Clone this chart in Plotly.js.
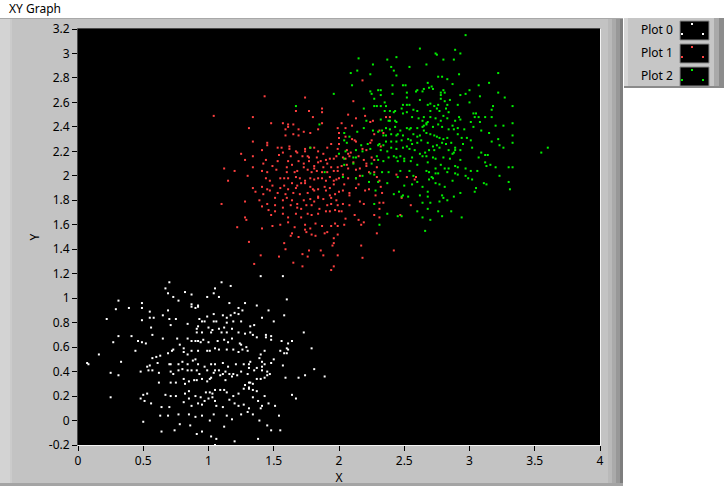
<!DOCTYPE html>
<html>
<head>
<meta charset="utf-8">
<script src="https://cdn.plot.ly/plotly-3.0.1.min.js"></script>
<style>
html,body{margin:0;padding:0;background:#ffffff;}
#chart{width:724px;height:486px;}
</style>
</head>
<body>
<div id="chart"></div>
<script>
// ---- data ----
var seriesNames = ["Plot 0", "Plot 1", "Plot 2"];
var seriesColors = ["#ffffff", "#ff4040", "#00f000"];

var xTickVals = [0, 0.5, 1, 1.5, 2, 2.5, 3, 3.5, 4];
var xTickText = ["0", "0.5", "1", "1.5", "2", "2.5", "3", "3.5", "4"];
var yTickVals = [-0.2, 0, 0.2, 0.4, 0.6, 0.8, 1, 1.2, 1.4, 1.6, 1.8, 2, 2.2, 2.4, 2.6, 2.8, 3, 3.2];
var yTickText = ["-0.2", "0", "0.2", "0.4", "0.6", "0.8", "1", "1.2", "1.4", "1.6", "1.8", "2", "2.2", "2.4", "2.6", "2.8", "3", "3.2"];

var plot0X = [
0.70,0.67,1.10,1.17,1.05,0.69,0.82,0.73,0.87,0.99,
1.04,1.08,0.31,0.49,0.77,0.87,0.92,0.87,0.92,1.16,
1.28,0.29,0.39,0.49,0.55,0.69,0.90,1.23,1.26,1.20,
1.23,0.22,0.49,0.55,0.58,0.65,0.70,0.75,0.93,0.99,
1.04,1.11,1.14,1.17,0.95,0.97,1.04,1.06,1.14,1.19,
1.25,0.56,0.71,0.84,0.92,0.91,1.00,1.03,1.08,1.12,
1.18,1.28,0.57,0.91,0.95,1.02,1.10,1.14,1.23,0.31,
0.41,0.27,0.46,0.49,0.52,0.65,0.76,0.84,0.87,0.90,
0.92,0.94,0.96,1.00,1.07,1.12,1.15,1.18,1.24,1.29,
1.30,1.25,0.16,0.33,0.44,0.57,0.60,0.63,0.69,0.72,
0.73,0.78,0.81,0.81,0.84,0.87,0.90,0.92,0.99,1.01,
1.05,1.08,1.14,1.19,1.23,1.26,0.07,0.08,0.61,0.70,
0.71,0.77,0.80,0.84,0.88,0.92,0.97,1.02,1.05,1.11,
1.15,1.21,1.27,1.31,0.25,0.31,0.48,0.53,0.55,0.54,
0.57,0.62,0.71,0.73,0.77,0.80,0.84,0.87,0.91,0.93,
0.99,1.04,1.05,1.08,1.11,1.13,1.16,1.19,1.22,1.25,
1.32,0.62,0.71,0.75,0.81,0.82,0.85,0.89,0.91,0.95,
0.99,1.01,1.02,1.09,1.13,1.18,1.30,1.28,0.25,0.48,
0.50,0.53,0.56,0.67,0.71,0.75,0.82,0.85,0.90,0.94,
0.98,1.01,1.03,1.05,1.09,1.12,1.14,1.19,1.23,1.31,
1.27,0.51,0.64,0.70,0.81,0.85,0.87,0.92,0.95,0.97,
1.00,1.03,1.05,1.06,1.11,1.16,1.20,1.23,1.27,0.63,
0.69,0.77,0.85,0.90,0.95,1.01,1.04,1.14,1.18,1.25,
1.30,0.50,0.64,0.74,0.78,0.86,0.91,0.95,1.02,1.06,
1.05,1.12,1.20,1.40,1.57,1.60,1.37,1.46,1.58,1.41,
1.50,1.35,1.32,1.73,1.32,1.34,1.44,1.48,1.37,1.44,
1.48,1.56,1.61,1.64,1.79,1.60,1.61,1.55,1.58,1.60,
1.43,1.40,1.39,1.50,1.48,1.41,1.43,1.32,1.57,1.41,
1.37,1.31,1.81,1.41,1.35,1.45,1.74,1.89,1.47,1.45,
1.43,1.59,1.69,1.37,1.40,1.34,1.31,1.37,1.34,1.31,
1.64,1.67,1.43,1.34,1.38,1.46,1.51,1.41,1.40,1.31,
1.34,1.54,1.39,1.45,1.48,1.55,1.38];
var plot0Y = [
1.13,1.08,1.13,1.10,1.08,1.04,1.05,1.01,1.03,1.01,
1.04,1.01,0.98,0.96,0.98,0.95,0.94,0.93,0.93,0.96,
0.96,0.91,0.92,0.92,0.89,0.90,0.92,0.92,0.90,0.88,
0.87,0.83,0.82,0.84,0.84,0.86,0.83,0.83,0.83,0.85,
0.87,0.86,0.84,0.86,0.81,0.81,0.81,0.81,0.80,0.81,
0.81,0.76,0.78,0.79,0.77,0.75,0.76,0.74,0.75,0.76,
0.75,0.71,0.70,0.72,0.72,0.72,0.72,0.72,0.72,0.69,
0.69,0.64,0.65,0.64,0.63,0.67,0.67,0.67,0.65,0.65,
0.65,0.64,0.66,0.64,0.65,0.66,0.64,0.67,0.63,0.60,
0.57,0.62,0.54,0.48,0.57,0.51,0.52,0.53,0.55,0.57,
0.58,0.62,0.59,0.56,0.54,0.57,0.50,0.57,0.57,0.57,
0.59,0.58,0.58,0.58,0.56,0.58,0.47,0.46,0.47,0.46,
0.46,0.46,0.48,0.46,0.49,0.46,0.44,0.46,0.46,0.47,
0.44,0.46,0.46,0.46,0.39,0.37,0.40,0.44,0.45,0.41,
0.41,0.39,0.40,0.38,0.41,0.42,0.41,0.41,0.41,0.38,
0.41,0.39,0.41,0.41,0.38,0.40,0.38,0.38,0.37,0.40,
0.31,0.31,0.31,0.31,0.34,0.30,0.32,0.33,0.33,0.34,
0.32,0.34,0.35,0.37,0.33,0.36,0.38,0.29,0.19,0.18,
0.21,0.22,0.14,0.21,0.20,0.20,0.22,0.24,0.20,0.19,
0.23,0.23,0.22,0.25,0.25,0.25,0.23,0.20,0.22,0.27,
0.26,0.16,0.11,0.11,0.15,0.18,0.12,0.14,0.13,0.16,
0.18,0.19,0.16,0.12,0.11,0.17,0.14,0.12,0.13,0.04,
0.04,0.05,0.05,0.03,0.04,0.00,0.05,0.04,0.01,0.05,
0.07,-0.01,-0.09,-0.08,-0.03,-0.04,-0.11,-0.09,-0.13,-0.15,
-0.20,-0.05,-0.17,1.18,1.18,0.99,0.94,0.90,0.86,0.84,
0.81,0.78,0.77,0.72,0.72,0.70,0.70,0.69,0.68,0.68,
0.66,0.65,0.63,0.65,0.59,0.59,0.58,0.57,0.55,0.55,
0.57,0.54,0.51,0.50,0.47,0.48,0.46,0.48,0.45,0.44,
0.43,0.43,0.42,0.41,0.41,0.40,0.37,0.36,0.38,0.37,
0.35,0.35,0.35,0.34,0.34,0.30,0.31,0.24,0.25,0.26,
0.21,0.18,0.20,0.19,0.16,0.14,0.12,0.12,0.10,0.10,
0.05,0.04,0.00,-0.04,-0.08,-0.08,-0.15];

var plot1X = [
1.43,1.74,1.04,1.34,1.87,1.87,1.77,1.67,1.80,1.48,
1.57,1.61,1.65,1.61,1.31,1.59,1.69,1.87,1.84,1.78,
1.73,1.99,1.65,1.69,1.59,2.00,1.34,1.45,1.45,1.41,
1.53,1.56,1.62,1.62,1.57,1.67,1.68,1.74,1.78,1.74,
1.81,1.84,1.88,1.91,2.00,2.00,1.94,1.99,1.25,1.34,
1.54,1.63,1.72,1.76,1.77,1.83,1.90,1.93,1.96,1.98,
1.28,1.44,1.53,1.61,1.64,1.69,1.73,1.77,1.81,1.84,
1.86,1.88,1.91,1.94,1.99,1.99,1.34,1.42,1.12,1.20,
1.49,1.52,1.60,1.60,1.66,1.68,1.73,1.76,1.79,1.81,
1.83,1.87,1.91,1.96,1.15,1.30,1.41,1.45,1.44,1.47,
1.55,1.58,1.61,1.67,1.70,1.64,1.71,1.74,1.78,1.81,
1.84,1.87,1.90,1.93,1.96,1.98,2.00,1.34,1.41,1.45,
1.49,1.55,1.58,1.61,1.67,1.68,1.74,1.78,1.80,1.84,
1.89,1.93,1.96,1.36,1.42,1.47,1.53,1.59,1.65,1.70,
1.76,1.81,1.84,1.90,1.93,1.97,2.00,1.28,1.39,1.45,
1.51,1.57,1.60,1.64,1.68,1.73,1.78,1.81,1.84,1.88,
1.94,1.98,1.10,1.41,1.46,1.51,1.57,1.63,1.68,1.71,
1.75,1.79,1.85,1.91,1.94,1.99,1.28,1.29,1.48,1.51,
1.57,1.61,1.67,1.71,1.76,1.79,1.84,1.90,1.93,1.97,
2.00,1.22,1.41,1.49,1.55,1.61,1.66,1.74,1.78,1.74,
1.82,1.87,1.89,1.94,1.97,1.99,1.31,1.58,1.63,1.64,
1.69,1.75,1.79,1.82,1.91,1.96,1.99,1.95,1.40,1.54,
1.59,1.72,1.77,1.86,1.88,1.96,1.99,1.35,1.65,1.72,
1.76,1.96,1.94,2.17,2.18,2.42,2.18,2.11,2.07,2.20,
2.36,2.39,2.13,2.26,2.24,2.10,2.05,2.02,2.31,2.34,
2.27,2.05,2.10,2.12,2.13,2.25,2.24,2.32,2.18,2.21,
2.09,2.06,2.07,2.08,2.05,2.03,2.15,2.19,2.25,2.27,
2.29,2.06,2.11,2.02,2.07,2.13,2.16,2.21,2.21,2.03,
2.07,2.13,2.16,2.23,2.27,2.29,2.31,2.15,2.32,2.13,
2.04,2.03,2.08,2.23,2.08,2.20,2.28,2.33,2.44,2.52,
2.58,2.59,2.48,2.55,2.19,2.16,2.03,2.08,2.31,2.34,
2.27,2.31,2.12,2.02,2.05,2.15,2.19,2.04,2.17,2.47,
2.29,2.31];
var plot1Y = [
2.65,2.64,2.49,2.48,2.55,2.52,2.53,2.53,2.48,2.43,
2.43,2.42,2.42,2.40,2.39,2.38,2.38,2.43,2.38,2.35,
2.36,2.39,2.34,2.33,2.33,2.35,2.28,2.27,2.25,2.21,
2.23,2.23,2.24,2.22,2.19,2.20,2.19,2.22,2.23,2.20,
2.23,2.20,2.18,2.23,2.31,2.26,2.26,2.22,2.18,2.16,
2.17,2.16,2.16,2.16,2.15,2.15,2.13,2.14,2.14,2.16,
2.13,2.13,2.12,2.12,2.09,2.12,2.10,2.12,2.08,2.11,
2.12,2.07,2.10,2.07,2.07,2.04,2.07,2.10,2.06,2.04,
2.08,2.05,2.07,2.03,2.03,2.04,2.07,2.05,2.03,2.06,
2.04,2.03,2.03,2.04,1.96,2.00,2.04,2.03,1.98,1.96,
1.98,1.98,1.98,1.99,1.98,1.94,1.94,1.96,1.98,1.97,
1.98,1.98,1.96,1.99,1.96,1.97,1.98,1.90,1.91,1.89,
1.92,1.90,1.92,1.89,1.90,1.92,1.94,1.91,1.89,1.89,
1.91,1.90,1.93,1.87,1.85,1.88,1.86,1.85,1.86,1.85,
1.86,1.88,1.83,1.88,1.84,1.85,1.87,1.79,1.80,1.77,
1.82,1.80,1.82,1.80,1.77,1.80,1.81,1.79,1.82,1.81,
1.82,1.80,1.77,1.75,1.72,1.76,1.74,1.76,1.74,1.73,
1.76,1.76,1.73,1.76,1.77,1.76,1.66,1.64,1.68,1.71,
1.69,1.66,1.69,1.66,1.69,1.68,1.69,1.71,1.71,1.72,
1.71,1.58,1.57,1.59,1.60,1.62,1.58,1.60,1.57,1.56,
1.61,1.59,1.53,1.59,1.61,1.59,1.46,1.45,1.51,1.53,
1.50,1.54,1.52,1.51,1.54,1.49,1.52,1.43,1.35,1.34,
1.40,1.36,1.39,1.39,1.35,1.45,1.35,1.28,1.29,1.26,
1.34,1.26,1.23,1.43,1.33,1.39,2.78,2.61,2.50,2.49,
2.48,2.48,2.47,2.45,2.44,2.41,2.39,2.43,2.37,2.35,
2.34,2.32,2.30,2.29,2.28,2.29,2.27,2.24,2.22,2.21,
2.19,2.21,2.18,2.16,2.14,2.15,2.16,2.13,2.15,2.13,
2.07,2.09,2.11,2.08,2.06,2.05,2.06,2.08,2.10,2.01,
1.98,1.98,2.00,2.03,2.03,1.99,1.96,1.93,1.91,1.90,
1.93,1.88,1.86,1.89,1.84,1.88,1.84,1.86,2.01,1.99,
1.97,1.99,1.82,1.76,1.77,1.79,1.77,1.76,1.78,1.78,
1.68,1.73,1.68,1.71,1.65,1.64,1.62,1.60,1.60,1.68,
1.53,1.66];

var plot2X = [
2.62,2.89,2.74,2.75,2.93,2.44,2.15,2.37,2.80,2.88,
2.26,2.54,2.67,2.40,2.42,2.14,2.09,2.24,2.44,2.92,
3.22,2.76,2.79,2.83,2.49,2.41,2.51,2.68,2.87,2.10,
2.71,2.72,2.69,2.65,2.60,2.59,2.64,2.80,2.78,2.81,
3.07,3.15,2.24,2.25,2.30,2.32,2.41,2.32,2.52,2.78,
2.97,3.00,2.93,3.22,3.08,3.27,2.27,2.52,2.62,2.78,
2.81,2.85,3.00,2.35,2.27,2.29,2.32,2.49,2.52,2.54,
2.68,2.70,2.73,2.76,2.83,2.91,3.33,3.18,3.17,2.19,
2.35,2.36,2.39,2.42,2.43,2.48,2.52,2.57,2.60,2.70,
2.75,2.77,2.82,2.84,2.49,2.38,2.39,2.43,2.44,2.21,
2.32,2.56,2.61,2.65,2.64,2.67,2.68,2.70,2.74,2.78,
2.80,2.83,2.92,2.93,2.89,3.03,3.05,3.04,3.07,3.12,
3.01,3.08,3.17,3.33,3.20,3.26,2.19,2.26,2.36,2.39,
2.43,2.47,2.52,2.54,2.55,2.60,2.64,2.65,2.67,2.72,
2.76,2.79,2.84,2.87,2.88,2.91,2.96,3.03,3.09,3.15,
2.04,2.08,2.14,2.30,2.33,2.34,2.36,2.40,2.44,2.45,
2.49,2.53,2.57,2.60,2.62,2.65,2.67,2.70,2.73,2.75,
2.77,2.80,2.83,2.91,2.94,2.98,3.01,3.22,3.33,3.33,
2.04,2.06,2.17,2.22,2.30,2.31,2.34,2.36,2.40,2.44,
2.48,2.52,2.55,2.56,2.60,2.63,2.68,2.72,2.75,2.79,
2.82,2.86,2.89,2.95,3.02,3.17,3.23,3.26,2.05,2.13,
2.18,2.24,2.32,2.37,2.40,2.44,2.49,2.54,2.58,2.62,
2.66,2.69,2.73,2.77,2.84,2.87,2.88,2.89,2.93,3.09,
3.12,3.14,3.55,3.60,2.04,2.11,2.13,2.29,2.30,2.38,
2.42,2.44,2.47,2.50,2.56,2.64,2.67,2.72,2.74,2.80,
2.85,2.93,3.07,3.12,3.13,3.16,3.20,3.30,3.33,2.04,
2.11,2.25,2.34,2.45,2.50,2.55,2.60,2.68,2.74,2.78,
2.81,2.84,2.89,2.91,2.97,3.01,3.06,2.03,2.13,2.18,
2.24,2.27,2.33,2.38,2.47,2.54,2.57,2.67,2.69,2.71,
2.74,2.76,2.83,2.89,2.91,2.97,2.99,3.02,3.23,2.23,
2.30,2.37,2.45,2.50,2.56,2.60,2.64,2.69,2.72,2.74,
2.77,2.81,2.87,2.93,3.11,3.13,3.30,3.31,3.05,3.04,
2.28,2.42,2.46,2.48,2.49,2.53,2.62,2.68,2.68,2.79,
2.80,2.88,2.83,2.77,2.70,2.64,2.27,2.37,2.31,2.45,
2.48,2.60,2.68,2.64,2.76,2.79,2.86,2.94,2.70,2.66,
1.96,1.67,1.85,1.78,1.89,2.00,2.97];
var plot2Y = [
3.04,3.03,3.00,2.99,3.00,2.97,2.96,2.95,2.95,2.95,
2.91,2.89,2.91,2.89,2.86,2.86,2.84,2.83,2.82,2.83,
2.84,2.81,2.81,2.79,2.74,2.74,2.74,2.76,2.75,2.74,
2.73,2.71,2.72,2.71,2.70,2.69,2.69,2.70,2.68,2.68,
2.74,2.76,2.69,2.67,2.70,2.70,2.67,2.66,2.68,2.66,
2.67,2.70,2.66,2.68,2.65,2.64,2.63,2.64,2.62,2.63,
2.61,2.62,2.60,2.60,2.57,2.57,2.57,2.58,2.58,2.58,
2.58,2.59,2.57,2.58,2.58,2.58,2.57,2.57,2.54,2.55,
2.53,2.57,2.53,2.52,2.53,2.55,2.52,2.54,2.53,2.53,
2.55,2.53,2.55,2.52,2.51,2.45,2.45,2.45,2.44,2.45,
2.46,2.48,2.47,2.48,2.45,2.43,2.44,2.48,2.47,2.45,
2.49,2.47,2.48,2.46,2.45,2.51,2.51,2.48,2.48,2.48,
2.44,2.44,2.48,2.43,2.41,2.41,2.39,2.37,2.39,2.38,
2.40,2.37,2.39,2.38,2.39,2.39,2.40,2.41,2.42,2.40,
2.42,2.40,2.38,2.41,2.38,2.39,2.38,2.40,2.37,2.35,
2.35,2.32,2.36,2.36,2.37,2.33,2.33,2.34,2.33,2.34,
2.33,2.30,2.34,2.32,2.33,2.37,2.35,2.34,2.33,2.32,
2.31,2.30,2.31,2.34,2.31,2.31,2.29,2.30,2.33,2.27,
2.29,2.27,2.25,2.26,2.25,2.26,2.25,2.28,2.28,2.28,
2.29,2.24,2.29,2.26,2.27,2.29,2.27,2.24,2.25,2.27,
2.26,2.27,2.23,2.26,2.23,2.28,2.25,2.23,2.20,2.21,
2.20,2.22,2.21,2.20,2.23,2.22,2.23,2.22,2.21,2.18,
2.19,2.21,2.21,2.23,2.21,2.18,2.19,2.21,2.21,2.19,
2.17,2.17,2.19,2.23,2.14,2.15,2.15,2.16,2.13,2.15,
2.16,2.15,2.16,2.14,2.15,2.16,2.16,2.15,2.14,2.15,
2.14,2.13,2.15,2.11,2.08,2.09,2.07,2.07,2.07,2.09,
2.10,2.10,2.12,2.12,2.12,2.12,2.09,2.11,2.06,2.09,
2.06,2.06,2.08,2.07,2.06,2.04,2.04,1.99,1.98,2.00,
2.02,2.01,2.03,2.03,2.04,2.04,2.00,2.04,2.03,1.99,
2.02,2.02,2.03,2.02,2.01,2.00,1.98,1.97,2.00,1.95,
1.95,1.94,1.99,1.92,1.93,1.95,1.91,1.97,1.98,1.94,
1.93,1.91,1.96,1.86,1.94,1.93,1.95,1.89,1.90,1.87,
1.88,1.85,1.87,1.83,1.84,1.83,1.84,1.87,1.83,1.84,
1.82,1.83,1.80,1.79,1.78,1.78,1.77,1.69,1.60,1.67,
1.67,1.71,1.73,1.66,1.71,1.67,1.71,1.66,1.64,1.55,
2.67,2.57,2.42,2.23,2.03,2.18,3.15];

// ---- figure geometry (chrome only) ----
var W = 724, H = 486, ML = 78, MR = 124, MT = 29, MB = 41;
var PW = W - ML - MR, PH = H - MT - MB;
function px(v) { return (v - ML) / PW; }
function py(v) { return (H - MB - v) / PH; }
function box(x0, y0, x1, y1, fill, line) {
  return {type: "rect", xref: "paper", yref: "paper", layer: "below",
    x0: px(x0), x1: px(x1), y0: py(y1), y1: py(y0),
    fillcolor: fill, line: line ? {color: line, width: 1} : {width: 0}};
}
function seg(x0, y0, x1, y1, color) {
  return {type: "line", xref: "paper", yref: "paper", layer: "below",
    x0: px(x0), x1: px(x1), y0: py(y0), y1: py(y1), line: {color: color, width: 1}};
}

var FONT = "'Noto Sans', 'Open Sans', 'Liberation Sans', sans-serif";

var traces = [
  {x: plot0X, y: plot0Y}, {x: plot1X, y: plot1Y}, {x: plot2X, y: plot2Y}
].map(function (d, i) {
  return {type: "scatter", mode: "markers", name: seriesNames[i], x: d.x, y: d.y,
    marker: {symbol: "square", size: 2, color: seriesColors[i], line: {width: 0}},
    hoverinfo: "skip", cliponaxis: true, showlegend: false};
});

var shapes = [
  // graph panel
  box(0, 18, 623, 486, "#c3c3c3"),
  box(0, 18, 10, 486, "#d3d3d3"),
  box(10, 18, 12, 486, "#cbcbcb"),
  box(608, 18, 612, 486, "#b9b9b9"),
  box(612, 18, 616, 486, "#aaaaaa"),
  box(616, 18, 620, 486, "#989898"),
  box(620, 18, 623, 486, "#7e7e7e"),
  box(0, 483, 623, 486, "#a4a4a4"),
  seg(0, 18.5, 623, 18.5, "#a8a8a8"),
  // legend panel
  box(624, 18, 724, 88, "#c6c6c6"),
  box(624, 18, 628, 88, "#d6d6d6"),
  box(714, 18, 719, 88, "#a9a9a9"),
  box(719, 18, 724, 88, "#8c8c8c"),
  box(624, 86, 724, 88, "#8a8a8a"),
  // plotting area
  box(78, 29, 600, 445, "#000000"),
  seg(77.5, 28.5, 600.5, 28.5, "#4a4a4a"),
  seg(77.5, 28.5, 77.5, 445.5, "#4a4a4a"),
  seg(600.5, 28.5, 600.5, 445.5, "#f4f4f4"),
  seg(77.5, 445.5, 600.5, 445.5, "#f4f4f4")
];

var annotations = [
  {text: "XY Graph", xref: "paper", yref: "paper", x: px(7), y: py(9),
   xanchor: "left", yanchor: "middle", showarrow: false,
   font: {family: FONT, size: 12, color: "#000000"}}
];

// legend swatches
var swatchTop = [21, 44, 67];
for (var i = 0; i < 3; i++) {
  var t = swatchTop[i];
  shapes.push(box(680, t, 709, t + 19, "#000000", "#8a8a8a"));
  [[691, t + 2], [681, t + 12], [702, t + 12]].forEach(function (p) {
    shapes.push(box(p[0], p[1], p[0] + 2, p[1] + 2, seriesColors[i]));
  });
  annotations.push({text: seriesNames[i], xref: "paper", yref: "paper",
    x: px(639), y: py(t + 8), xanchor: "left", yanchor: "middle", showarrow: false,
    font: {family: FONT, size: 12, color: "#000000"}});
}

var axisFont = {family: FONT, size: 12, color: "#000000"};
var layout = {
  width: W, height: H,
  margin: {l: ML, r: MR, t: MT, b: MB, pad: 0},
  paper_bgcolor: "#ffffff",
  plot_bgcolor: "#000000",
  showlegend: false,
  hovermode: false,
  xaxis: {range: [0, 4], tickmode: "array", tickvals: xTickVals, ticktext: xTickText,
    ticks: "outside", ticklen: 5, tickcolor: "#000000", tickwidth: 1,
    showgrid: false, zeroline: false, showline: false, fixedrange: true,
    tickfont: axisFont, title: {text: "X", font: axisFont, standoff: 2}},
  yaxis: {range: [-0.2, 3.2], tickmode: "array", tickvals: yTickVals, ticktext: yTickText,
    ticks: "outside", ticklen: 5, tickcolor: "#000000", tickwidth: 1,
    showgrid: false, zeroline: false, showline: false, fixedrange: true,
    tickfont: axisFont, title: {text: "Y", font: axisFont, standoff: 6}},
  shapes: shapes,
  annotations: annotations
};

Plotly.newPlot("chart", traces, layout, {staticPlot: true, displayModeBar: false});
</script>
</body>
</html>
